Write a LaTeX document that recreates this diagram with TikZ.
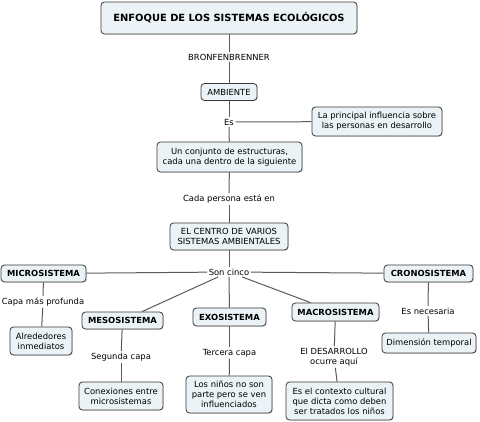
\documentclass[tikz,border=0pt]{standalone}
\usepackage{fontspec}
\setmainfont{DejaVu Sans}
\usetikzlibrary{shadows}
\definecolor{boxfill}{HTML}{EBF3F6}
\definecolor{boxdraw}{HTML}{3A3A3A}
\definecolor{linecol}{HTML}{5A5A5A}
\begin{document}
\begin{tikzpicture}[x=1pt,y=-1pt,
  concept/.style={draw=boxdraw,fill=boxfill,rounded corners=3.5pt,line width=0.8pt,
    align=center,font=\fontsize{8.4}{10}\selectfont,inner sep=1.5pt,
    drop shadow={shadow xshift=0.7pt,shadow yshift=-0.7pt,opacity=0.35}},
  boldconcept/.style={concept,font=\fontsize{8.4}{10}\selectfont\bfseries},
  linklabel/.style={align=center,font=\fontsize{8.4}{10}\selectfont,inner sep=1.5pt,fill=white},
  conn/.style={draw=linecol,line width=1pt}]
\useasboundingbox (0,0) rectangle (480,422);
% concepts
\node[concept,font=\fontsize{9.9}{11.5}\selectfont\bfseries,minimum width=256pt,minimum height=32pt] (title) at (229,18) {ENFOQUE DE LOS SISTEMAS ECOLÓGICOS};
\node[concept,minimum width=56pt,minimum height=17pt] (amb) at (229,92) {AMBIENTE};
\node[concept,minimum width=130pt,minimum height=29pt] (infl) at (377,121.5) {La principal influencia sobre\\las personas en desarrollo};
\node[concept,minimum width=145pt,minimum height=30pt] (conj) at (229.5,157) {Un conjunto de estructuras,\\cada una dentro de la siguiente};
\node[concept,minimum width=118pt,minimum height=27pt] (centro) at (229,236.5) {EL CENTRO DE VARIOS\\SISTEMAS AMBIENTALES};
\node[boldconcept,minimum width=85pt,minimum height=17pt] (micro) at (43.5,273.5) {MICROSISTEMA};
\node[boldconcept,minimum width=89pt,minimum height=17pt] (crono) at (428.5,273.5) {CRONOSISTEMA};
\node[boldconcept,minimum width=81pt,minimum height=17pt] (meso) at (122.5,320.5) {MESOSISTEMA};
\node[boldconcept,minimum width=73pt,minimum height=18pt] (exo) at (229.5,317) {EXOSISTEMA};
\node[boldconcept,minimum width=87pt,minimum height=18pt] (macro) at (335.5,312) {MACROSISTEMA};
\node[concept,minimum width=62pt,minimum height=28pt] (alre) at (41,341) {Alrededores\\inmediatos};
\node[concept,minimum width=94pt,minimum height=20pt] (dim) at (429,343) {Dimensión temporal};
\node[concept,minimum width=84pt,minimum height=28pt] (conex) at (121,396) {Conexiones entre\\microsistemas};
\node[concept,minimum width=86pt,minimum height=37pt] (ninos) at (229,394.5) {Los niños no son\\parte pero se ven\\influenciados};
\node[concept,minimum width=107pt,minimum height=38pt] (ctx) at (339.5,401) {Es el contexto cultural\\que dicta como deben\\ser tratados los niños};
% link labels
\node[linklabel] (l1) at (229,57) {BRONFENBRENNER};
\node[linklabel] (l2) at (229,122) {Es};
\node[linklabel] (l3) at (229,199) {Cada persona está en};
\node[linklabel] (l4) at (229,272) {Son cinco};
\node[linklabel] (l5) at (43,302) {Capa más profunda};
\node[linklabel] (l6) at (428,311) {Es necesaria};
\node[linklabel] (l7) at (121,357) {Segunda capa};
\node[linklabel] (l8) at (229.5,353) {Tercera capa};
\node[linklabel] (l9) at (334,357) {El DESARROLLO\\ocurre aquí};
% connectors
\draw[conn] (title) -- (l1);
\draw[conn] (l1) -- (amb);
\draw[conn] (amb) -- (l2);
\draw[conn] (l2) -- (infl);
\draw[conn] (l2) -- (conj);
\draw[conn] (conj) -- (l3);
\draw[conn] (l3) -- (centro);
\draw[conn] (centro) -- (l4);
\draw[conn] (l4) -- (micro);
\draw[conn] (l4) -- (crono);
\draw[conn] (l4) -- (meso);
\draw[conn] (l4) -- (exo);
\draw[conn] (l4) -- (macro);
\draw[conn] (micro) -- (l5);
\draw[conn] (l5) -- (alre);
\draw[conn] (crono) -- (l6);
\draw[conn] (l6) -- (dim);
\draw[conn] (meso) -- (l7);
\draw[conn] (l7) -- (conex);
\draw[conn] (exo) -- (l8);
\draw[conn] (l8) -- (ninos);
\draw[conn] (macro) -- (l9);
\draw[conn] (l9) -- (ctx);
\end{tikzpicture}
\end{document}
